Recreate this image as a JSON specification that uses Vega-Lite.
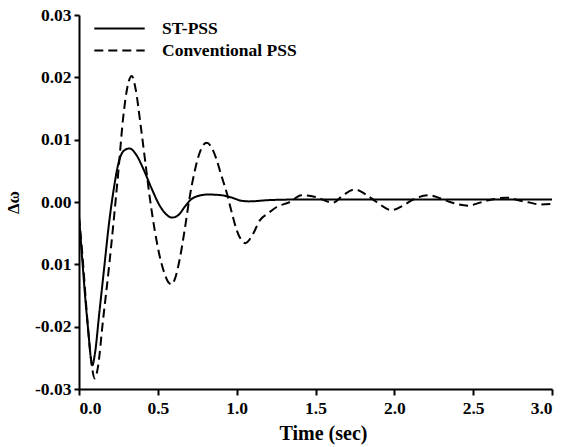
{
  "$schema": "https://vega.github.io/schema/vega-lite/v6.json",
  "autosize": "none",
  "width": 473,
  "height": 374,
  "padding": {"left": 79, "top": 15, "right": 20, "bottom": 58},
  "background": "white",
  "config": {
    "view": {"stroke": null},
    "font": "serif"
  },
  "data": {
    "values": [
      {"t": 0, "y": -0.0024, "s": "ST-PSS"},
      {"t": 0.02, "y": -0.009, "s": "ST-PSS"},
      {"t": 0.04, "y": -0.0155, "s": "ST-PSS"},
      {"t": 0.06, "y": -0.021, "s": "ST-PSS"},
      {"t": 0.075, "y": -0.025, "s": "ST-PSS"},
      {"t": 0.085, "y": -0.0262, "s": "ST-PSS"},
      {"t": 0.1, "y": -0.0245, "s": "ST-PSS"},
      {"t": 0.13, "y": -0.0175, "s": "ST-PSS"},
      {"t": 0.16, "y": -0.0105, "s": "ST-PSS"},
      {"t": 0.19, "y": -0.0035, "s": "ST-PSS"},
      {"t": 0.22, "y": 0.002, "s": "ST-PSS"},
      {"t": 0.25, "y": 0.0062, "s": "ST-PSS"},
      {"t": 0.28, "y": 0.0081, "s": "ST-PSS"},
      {"t": 0.32, "y": 0.0086, "s": "ST-PSS"},
      {"t": 0.36, "y": 0.0077, "s": "ST-PSS"},
      {"t": 0.41, "y": 0.0052, "s": "ST-PSS"},
      {"t": 0.46, "y": 0.0022, "s": "ST-PSS"},
      {"t": 0.51, "y": -0.0005, "s": "ST-PSS"},
      {"t": 0.55, "y": -0.0019, "s": "ST-PSS"},
      {"t": 0.59, "y": -0.0025, "s": "ST-PSS"},
      {"t": 0.63, "y": -0.0021, "s": "ST-PSS"},
      {"t": 0.67, "y": -0.0008, "s": "ST-PSS"},
      {"t": 0.71, "y": 0.0004, "s": "ST-PSS"},
      {"t": 0.76, "y": 0.001, "s": "ST-PSS"},
      {"t": 0.82, "y": 0.0012, "s": "ST-PSS"},
      {"t": 0.9, "y": 0.0011, "s": "ST-PSS"},
      {"t": 0.97, "y": 0.0007, "s": "ST-PSS"},
      {"t": 1.03, "y": 0.0002, "s": "ST-PSS"},
      {"t": 1.08, "y": 0.0001, "s": "ST-PSS"},
      {"t": 1.2, "y": 0.0003, "s": "ST-PSS"},
      {"t": 1.4, "y": 0.0004, "s": "ST-PSS"},
      {"t": 1.8, "y": 0.0004, "s": "ST-PSS"},
      {"t": 2.2, "y": 0.0004, "s": "ST-PSS"},
      {"t": 2.6, "y": 0.0004, "s": "ST-PSS"},
      {"t": 3.0, "y": 0.0004, "s": "ST-PSS"},
      {"t": 0, "y": -0.0024, "s": "Conventional PSS"},
      {"t": 0.02, "y": -0.008, "s": "Conventional PSS"},
      {"t": 0.05, "y": -0.018, "s": "Conventional PSS"},
      {"t": 0.075, "y": -0.025, "s": "Conventional PSS"},
      {"t": 0.1, "y": -0.0283, "s": "Conventional PSS"},
      {"t": 0.12, "y": -0.0265, "s": "Conventional PSS"},
      {"t": 0.15, "y": -0.0195, "s": "Conventional PSS"},
      {"t": 0.19, "y": -0.0105, "s": "Conventional PSS"},
      {"t": 0.22, "y": -0.003, "s": "Conventional PSS"},
      {"t": 0.25, "y": 0.005, "s": "Conventional PSS"},
      {"t": 0.28, "y": 0.0135, "s": "Conventional PSS"},
      {"t": 0.31, "y": 0.0188, "s": "Conventional PSS"},
      {"t": 0.335, "y": 0.0202, "s": "Conventional PSS"},
      {"t": 0.36, "y": 0.018, "s": "Conventional PSS"},
      {"t": 0.39, "y": 0.0125, "s": "Conventional PSS"},
      {"t": 0.42, "y": 0.0065, "s": "Conventional PSS"},
      {"t": 0.45, "y": 0.0005, "s": "Conventional PSS"},
      {"t": 0.48, "y": -0.0045, "s": "Conventional PSS"},
      {"t": 0.51, "y": -0.0085, "s": "Conventional PSS"},
      {"t": 0.54, "y": -0.0113, "s": "Conventional PSS"},
      {"t": 0.565, "y": -0.0128, "s": "Conventional PSS"},
      {"t": 0.588, "y": -0.0132, "s": "Conventional PSS"},
      {"t": 0.61, "y": -0.0122, "s": "Conventional PSS"},
      {"t": 0.64, "y": -0.009, "s": "Conventional PSS"},
      {"t": 0.67, "y": -0.0045, "s": "Conventional PSS"},
      {"t": 0.7, "y": 0.0005, "s": "Conventional PSS"},
      {"t": 0.73, "y": 0.0045, "s": "Conventional PSS"},
      {"t": 0.76, "y": 0.0075, "s": "Conventional PSS"},
      {"t": 0.79, "y": 0.0092, "s": "Conventional PSS"},
      {"t": 0.81, "y": 0.0095, "s": "Conventional PSS"},
      {"t": 0.84, "y": 0.0088, "s": "Conventional PSS"},
      {"t": 0.87, "y": 0.007, "s": "Conventional PSS"},
      {"t": 0.9, "y": 0.0045, "s": "Conventional PSS"},
      {"t": 0.94, "y": 0.0012, "s": "Conventional PSS"},
      {"t": 0.97, "y": -0.0018, "s": "Conventional PSS"},
      {"t": 1.0, "y": -0.0045, "s": "Conventional PSS"},
      {"t": 1.03, "y": -0.0061, "s": "Conventional PSS"},
      {"t": 1.055, "y": -0.0066, "s": "Conventional PSS"},
      {"t": 1.1, "y": -0.0053, "s": "Conventional PSS"},
      {"t": 1.148, "y": -0.0029, "s": "Conventional PSS"},
      {"t": 1.2, "y": -0.0018, "s": "Conventional PSS"},
      {"t": 1.254, "y": -0.0008, "s": "Conventional PSS"},
      {"t": 1.338, "y": 0.0, "s": "Conventional PSS"},
      {"t": 1.41, "y": 0.0011, "s": "Conventional PSS"},
      {"t": 1.5, "y": 0.0008, "s": "Conventional PSS"},
      {"t": 1.61, "y": -0.0001, "s": "Conventional PSS"},
      {"t": 1.68, "y": 0.0012, "s": "Conventional PSS"},
      {"t": 1.75, "y": 0.002, "s": "Conventional PSS"},
      {"t": 1.82, "y": 0.0012, "s": "Conventional PSS"},
      {"t": 1.888, "y": 0.0, "s": "Conventional PSS"},
      {"t": 1.983, "y": -0.0013, "s": "Conventional PSS"},
      {"t": 2.06, "y": -0.0005, "s": "Conventional PSS"},
      {"t": 2.12, "y": 0.0004, "s": "Conventional PSS"},
      {"t": 2.215, "y": 0.0011, "s": "Conventional PSS"},
      {"t": 2.28, "y": 0.0007, "s": "Conventional PSS"},
      {"t": 2.353, "y": 0.0, "s": "Conventional PSS"},
      {"t": 2.469, "y": -0.0006, "s": "Conventional PSS"},
      {"t": 2.543, "y": -0.0001, "s": "Conventional PSS"},
      {"t": 2.62, "y": 0.0004, "s": "Conventional PSS"},
      {"t": 2.712, "y": 0.0007, "s": "Conventional PSS"},
      {"t": 2.8, "y": 0.0002, "s": "Conventional PSS"},
      {"t": 2.86, "y": -0.0001, "s": "Conventional PSS"},
      {"t": 2.923, "y": -0.0004, "s": "Conventional PSS"},
      {"t": 3.0, "y": -0.0003, "s": "Conventional PSS"}
    ]
  },
  "mark": {"type": "line", "interpolate": "monotone", "strokeWidth": 2, "color": "black", "clip": true},
  "encoding": {
    "x": {
      "field": "t", "type": "quantitative",
      "scale": {"domain": [0, 3], "nice": false, "zero": false},
      "axis": {
        "values": [0, 0.5, 1, 1.5, 2, 2.5, 3],
        "format": ".1f",
        "title": "Time (sec)",
        "titleX": 244,
        "grid": false,
        "domainColor": "black", "domainWidth": 2,
        "tickColor": "black", "tickWidth": 2, "tickSize": 6,
        "labelFont": "serif", "labelFontSize": 17.5, "labelFontWeight": "bold", "labelColor": "black",
        "labelPadding": 4,
        "titleFont": "serif", "titleFontSize": 20, "titleFontWeight": "bold", "titleColor": "black",
        "titlePadding": 7
      }
    },
    "y": {
      "field": "y", "type": "quantitative",
      "scale": {"domain": [-0.03, 0.03], "nice": false, "zero": false},
      "axis": {
        "values": [-0.03, -0.02, -0.01, 0, 0.01, 0.02, 0.03],
        "labelExpr": "datum.value < -0.015 ? '-' + format(-datum.value, '.2f') : format(abs(datum.value), '.2f')",
        "title": "Δω",
        "grid": false,
        "domainColor": "black", "domainWidth": 2,
        "tickColor": "black", "tickWidth": 2, "tickSize": 5,
        "labelFont": "serif", "labelFontSize": 17.5, "labelFontWeight": "bold", "labelColor": "black",
        "labelPadding": 3,
        "titleFont": "serif", "titleFontSize": 17, "titleFontWeight": "bold", "titleColor": "black",
        "titlePadding": 12
      }
    },
    "strokeDash": {
      "field": "s", "type": "nominal",
      "scale": {"domain": ["ST-PSS", "Conventional PSS"], "range": [[1, 0], [9, 5]]},
      "legend": {
        "title": null,
        "orient": "none",
        "legendX": 29,
        "legendY": 2,
        "symbolType": "M-2.4,0H2.4",
        "symbolSize": 441,
        "symbolStrokeWidth": 2,
        "symbolStrokeColor": "black",
        "labelFont": "serif", "labelFontSize": 17.5, "labelFontWeight": "bold", "labelColor": "black",
        "labelLimit": 300,
        "labelOffset": 31,
        "rowPadding": 2
      }
    }
  }
}
